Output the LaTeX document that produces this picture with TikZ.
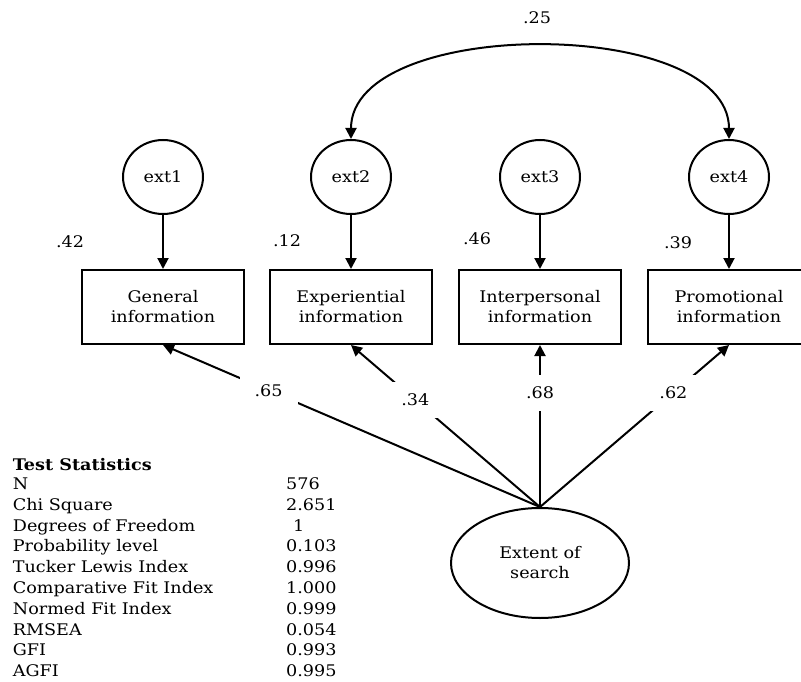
\documentclass[tikz,border=0pt]{standalone}
\usepackage{fontspec}
\setmainfont{DejaVu Serif}[FakeStretch=1.1]
\usetikzlibrary{shapes.geometric,arrows.meta}
\begin{document}
\begin{tikzpicture}[x=1pt,y=-1pt,
  every node/.style={font=\fontsize{16}{20}\selectfont, inner sep=0pt},
  latent/.style={draw, ellipse, line width=2pt, minimum width=80pt, minimum height=74pt},
  factor/.style={draw, ellipse, line width=2pt, minimum width=178pt, minimum height=110pt, align=center},
  obs/.style={draw, rectangle, line width=2pt, minimum width=162pt, minimum height=74pt, align=center},
  regr/.style={line width=2pt, -{Triangle[length=11pt,width=11pt]}},
  cov/.style={line width=2pt, {Triangle[length=11pt,width=11pt]}-{Triangle[length=11pt,width=11pt]}},
  coef/.style={fill=white, minimum width=58pt, minimum height=36pt},
  stat/.style={anchor=base west}]
\useasboundingbox (0,0) rectangle (801,682);

% error terms
\node[latent] (ext1) at (163,177) {ext1};
\node[latent] (ext2) at (351,177) {ext2};
\node[latent] (ext3) at (540,177) {ext3};
\node[latent] (ext4) at (729,177) {ext4};

% observed indicators
\node[obs] (gen) at (163,307) {General\\information};
\node[obs] (exp) at (351,307) {Experiential\\information};
\node[obs] (int) at (540,307) {Interpersonal\\information};
\node[obs] (pro) at (729,307) {Promotional\\information};

% latent factor
\node[factor] (ext) at (540,563) {Extent of\\search};

% error paths
\draw[regr] (ext1) -- (gen);
\draw[regr] (ext2) -- (exp);
\draw[regr] (ext3) -- (int);
\draw[regr] (ext4) -- (pro);

% covariance between ext2 and ext4
\draw[cov] (ext2.north) .. controls +(0,-123) and +(0,-123) .. (ext4.north);
\node (c25) at (537,18) {.25};

% squared multiple correlations
\node (r1) at (70,242) {.42};
\node (r2) at (287,241) {.12};
\node (r3) at (477,239) {.46};
\node (r4) at (678,243) {.39};

% factor loadings
\draw[regr] (ext.north) -- node[coef,pos=0.72] {.65} (gen.south);
\draw[regr] (ext.north) -- node[coef,pos=0.66] {.34} (exp.south);
\draw[regr] (ext.north) -- node[coef,pos=0.705] {.68} (int.south);
\draw[regr] (ext.north) -- node[coef,pos=0.706] {.62} (pro.south);

% fit statistics
\node[stat] (th) at (12.7,470.0) {\bfseries Test Statistics};
\node[stat] (s1) at (12.7,489.5) {N};
\node[stat] (s2) at (12.7,510.3) {Chi Square};
\node[stat] (s3) at (12.7,531.1) {Degrees of Freedom};
\node[stat] (s4) at (12.7,551.9) {Probability level};
\node[stat] (s5) at (12.7,572.7) {Tucker Lewis Index};
\node[stat] (s6) at (12.7,593.5) {Comparative Fit Index};
\node[stat] (s7) at (12.7,614.3) {Normed Fit Index};
\node[stat] (s8) at (12.7,635.1) {RMSEA};
\node[stat] (s9) at (12.7,655.9) {GFI};
\node[stat] (s10) at (12.7,676.7) {AGFI};

\node[stat] (v1) at (286,489.5) {576};
\node[stat] (v2) at (286,510.3) {2.651};
\node[stat] (v3) at (293,531.1) {1};
\node[stat] (v4) at (286,551.9) {0.103};
\node[stat] (v5) at (286,572.7) {0.996};
\node[stat] (v6) at (286,593.5) {1.000};
\node[stat] (v7) at (286,614.3) {0.999};
\node[stat] (v8) at (286,635.1) {0.054};
\node[stat] (v9) at (286,655.9) {0.993};
\node[stat] (v10) at (286,676.7) {0.995};
\end{tikzpicture}
\end{document}
